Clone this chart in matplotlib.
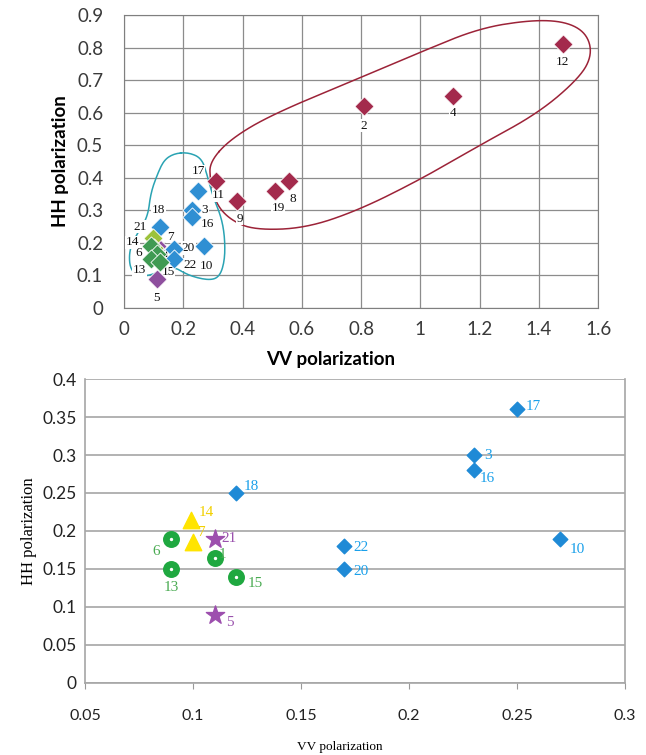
import numpy as np
import matplotlib
matplotlib.use("Agg")
import matplotlib.pyplot as plt

# ---- data ----
# class A (red, top chart only)
red_ids = ['12', '4', '2', '11', '9', '19', '8']
red_vv = [1.48, 1.11, 0.81, 0.31, 0.38, 0.51, 0.555]
red_hh = [0.81, 0.65, 0.62, 0.39, 0.33, 0.36, 0.39]

blue_ids = ['17', '3', '16', '18', '22', '20', '10']
blue_vv = [0.25, 0.23, 0.23, 0.12, 0.17, 0.17, 0.27]
blue_hh = [0.36, 0.30, 0.28, 0.25, 0.18, 0.15, 0.19]

yellow_ids = ['14', '7']
yellow_vv = [0.099, 0.10]
yellow_hh = [0.215, 0.185]

purple_ids = ['21', '5']
purple_vv = [0.11, 0.11]
purple_hh = [0.19, 0.09]

green_ids = ['6', '1', '13', '15']
green_vv = [0.09, 0.11, 0.09, 0.12]
green_hh = [0.19, 0.165, 0.15, 0.14]

# hand drawn group outlines on the top chart (vv, hh)
red_outline = [(0.29, 0.45), (0.36, 0.52), (0.50, 0.595), (0.79, 0.705), (1.01, 0.79),
               (1.20, 0.86), (1.375, 0.885), (1.49, 0.88), (1.56, 0.845), (1.58, 0.78),
               (1.54, 0.71), (1.40, 0.60), (1.20, 0.50), (1.00, 0.395), (0.79, 0.30),
               (0.61, 0.245), (0.44, 0.24), (0.36, 0.27), (0.31, 0.32), (0.29, 0.395)]
cyan_outline = [(0.17, 0.475), (0.218, 0.478), (0.262, 0.46), (0.28, 0.41), (0.30, 0.343),
                (0.328, 0.28), (0.34, 0.218), (0.34, 0.146), (0.322, 0.095), (0.285, 0.085),
                (0.218, 0.10), (0.173, 0.125), (0.14, 0.12), (0.073, 0.095), (0.022, 0.11),
                (0.016, 0.176), (0.045, 0.23), (0.08, 0.28), (0.09, 0.353), (0.112, 0.41),
                (0.135, 0.455)]

top_xticks = [0, 0.2, 0.4, 0.6, 0.8, 1, 1.2, 1.4, 1.6]
top_yticks = [0, 0.1, 0.2, 0.3, 0.4, 0.5, 0.6, 0.7, 0.8, 0.9]
bot_xticks = [0.05, 0.1, 0.15, 0.2, 0.25, 0.3]
bot_yticks = [0, 0.05, 0.1, 0.15, 0.2, 0.25, 0.3, 0.35, 0.4]

# label offsets in points
top_off = {'12': (0, -13), '4': (0, -12), '2': (0, -14), '11': (2, -10), '9': (2, -13),
           '19': (2, -12), '8': (3, -13), '17': (0, 14), '3': (9, 0), '16': (11, -5),
           '18': (-1, 12), '10': (2, -14), '20': (10, 8), '22': (11, -11), '21': (-12, 14),
           '14': (-15, -3), '6': (-9, -5), '13': (-8, -8), '15': (6, -7), '7': (12, 8),
           '1': (7, 0), '5': (0, -14)}
bot_off = {'17': (12, 2), '3': (10, 0), '16': (10, -6), '18': (11, 5), '22': (12, -1),
           '20': (12, -2), '10': (12, -8), '14': (11, 5), '7': (6, 7), '21': (10, 0),
           '6': (-11, -9), '1': (6, 2), '13': (0, -13), '15': (14, -5), '5': (11, -6)}


def chaikin(pts, n=3):
    p = np.array(pts, dtype=float)
    for _ in range(n):
        q = np.roll(p, -1, axis=0)
        p = np.stack([0.75 * p + 0.25 * q, 0.25 * p + 0.75 * q], axis=1).reshape(-1, 2)
    return np.vstack([p, p[:1]])


sans = ['Lato', 'DejaVu Sans']
serif = ['Liberation Serif', 'DejaVu Serif']

fig = plt.figure(figsize=(6.46, 7.55), dpi=100)

# ================= top chart =================
ax = fig.add_axes([0.192, 0.592, 0.734, 0.388])
ax.set_xlim(0, 1.6)
ax.set_ylim(0, 0.9)
ax.set_xticks(top_xticks)
ax.set_yticks(top_yticks)
ax.set_xticklabels([('%g' % t) for t in top_xticks], fontfamily=sans, fontsize=13.5, color='#3a3a3a')
ax.set_yticklabels([('%g' % t) for t in top_yticks], fontfamily=sans, fontsize=13.5, color='#3a3a3a')
ax.tick_params(axis='x', length=0, pad=9)
ax.tick_params(axis='y', length=0, pad=15)
ax.grid(True, color='#8c8c8c', lw=0.9)
ax.set_axisbelow(True)
for s in ax.spines.values():
    s.set_color('#7f7f7f')
ax.set_xlabel('VV polarization', fontfamily=sans, fontsize=13.5, fontweight='bold', labelpad=3)
ax.xaxis.set_label_coords(0.435, -0.145)
ax.set_ylabel('HH polarization', fontfamily=sans, fontsize=13.5, fontweight='bold', labelpad=6)

ro = chaikin(red_outline)
ax.plot(ro[:, 0], ro[:, 1], color='#9c2338', lw=1.1, zorder=2)
co = chaikin(cyan_outline)
ax.plot(co[:, 0], co[:, 1], color='#2aa3b3', lw=1.1, zorder=2)

groups_top = [
    (red_ids, red_vv, red_hh, '#a32a4c'),
    (blue_ids, blue_vv, blue_hh, '#2f8fd3'),
    (purple_ids, purple_vv, purple_hh, '#8e4f9e'),
    (yellow_ids, yellow_vv, yellow_hh, '#9cc23a'),
    (green_ids, green_vv, green_hh, '#3f9a52'),
]
for ids, xs, ys, c in groups_top:
    ax.scatter(xs, ys, marker='D', s=95, color=c, edgecolor='white', linewidth=0.6, zorder=4)
    for i, x, y in zip(ids, xs, ys):
        ax.annotate(i, (x, y), xytext=top_off[i], textcoords='offset points',
                    ha='center', va='center', fontfamily=serif, fontsize=9.5, color='#111111',
                    bbox=dict(boxstyle='square,pad=0.05', fc='white', ec='none'), zorder=3)

# ================= bottom chart =================
bx = fig.add_axes([0.1316, 0.0954, 0.836, 0.4026])
bx.set_xlim(0.05, 0.3)
bx.set_ylim(0, 0.4)
bx.set_xticks(bot_xticks)
bx.set_yticks(bot_yticks)
bx.set_xticklabels([('%g' % t) for t in bot_xticks], fontfamily=sans, fontsize=11.5, color='#222222')
bx.set_yticklabels([('%g' % t) for t in bot_yticks], fontfamily=sans, fontsize=12.5, color='#222222')
bx.tick_params(axis='x', length=4, color='#999999', pad=15)
bx.tick_params(axis='y', length=0, pad=6)
bx.grid(True, axis='y', color='#a6a6a6', lw=1.2)
bx.set_axisbelow(True)
bx.spines['top'].set_visible(False)
for s in ['left', 'right', 'bottom']:
    bx.spines[s].set_color('#a6a6a6')
    bx.spines[s].set_linewidth(1.2)
bx.set_xlabel('VV polarization', fontfamily=serif, fontsize=9.5)
bx.xaxis.set_label_coords(0.472, -0.19)
bx.set_ylabel('HH polarization', fontfamily=serif, fontsize=12, labelpad=4)

bx.scatter(blue_vv, blue_hh, marker='D', s=55, color='#1f8ad6', zorder=4)
bx.scatter(yellow_vv, yellow_hh, marker='^', s=140, color='#ffe400', zorder=4)
bx.scatter(purple_vv, purple_hh, marker='*', s=190, color='#9d4fae', zorder=4)
bx.scatter(green_vv, green_hh, marker='o', s=125, color='#1fa840', zorder=4)
bx.scatter(green_vv, green_hh, marker='o', s=2, color='white', zorder=5)

lab_groups = [(blue_ids, blue_vv, blue_hh, '#1aa0ea'),
              (yellow_ids, yellow_vv, yellow_hh, '#f2d000'),
              (purple_ids, purple_vv, purple_hh, '#9a52ad'),
              (green_ids, green_vv, green_hh, '#4aab52')]
for ids, xs, ys, c in lab_groups:
    for i, x, y in zip(ids, xs, ys):
        bx.annotate(i, (x, y), xytext=bot_off[i], textcoords='offset points',
                    ha='center', va='center', fontfamily=serif, fontsize=11, color=c, zorder=6)

fig.savefig('out.png', dpi=100)
